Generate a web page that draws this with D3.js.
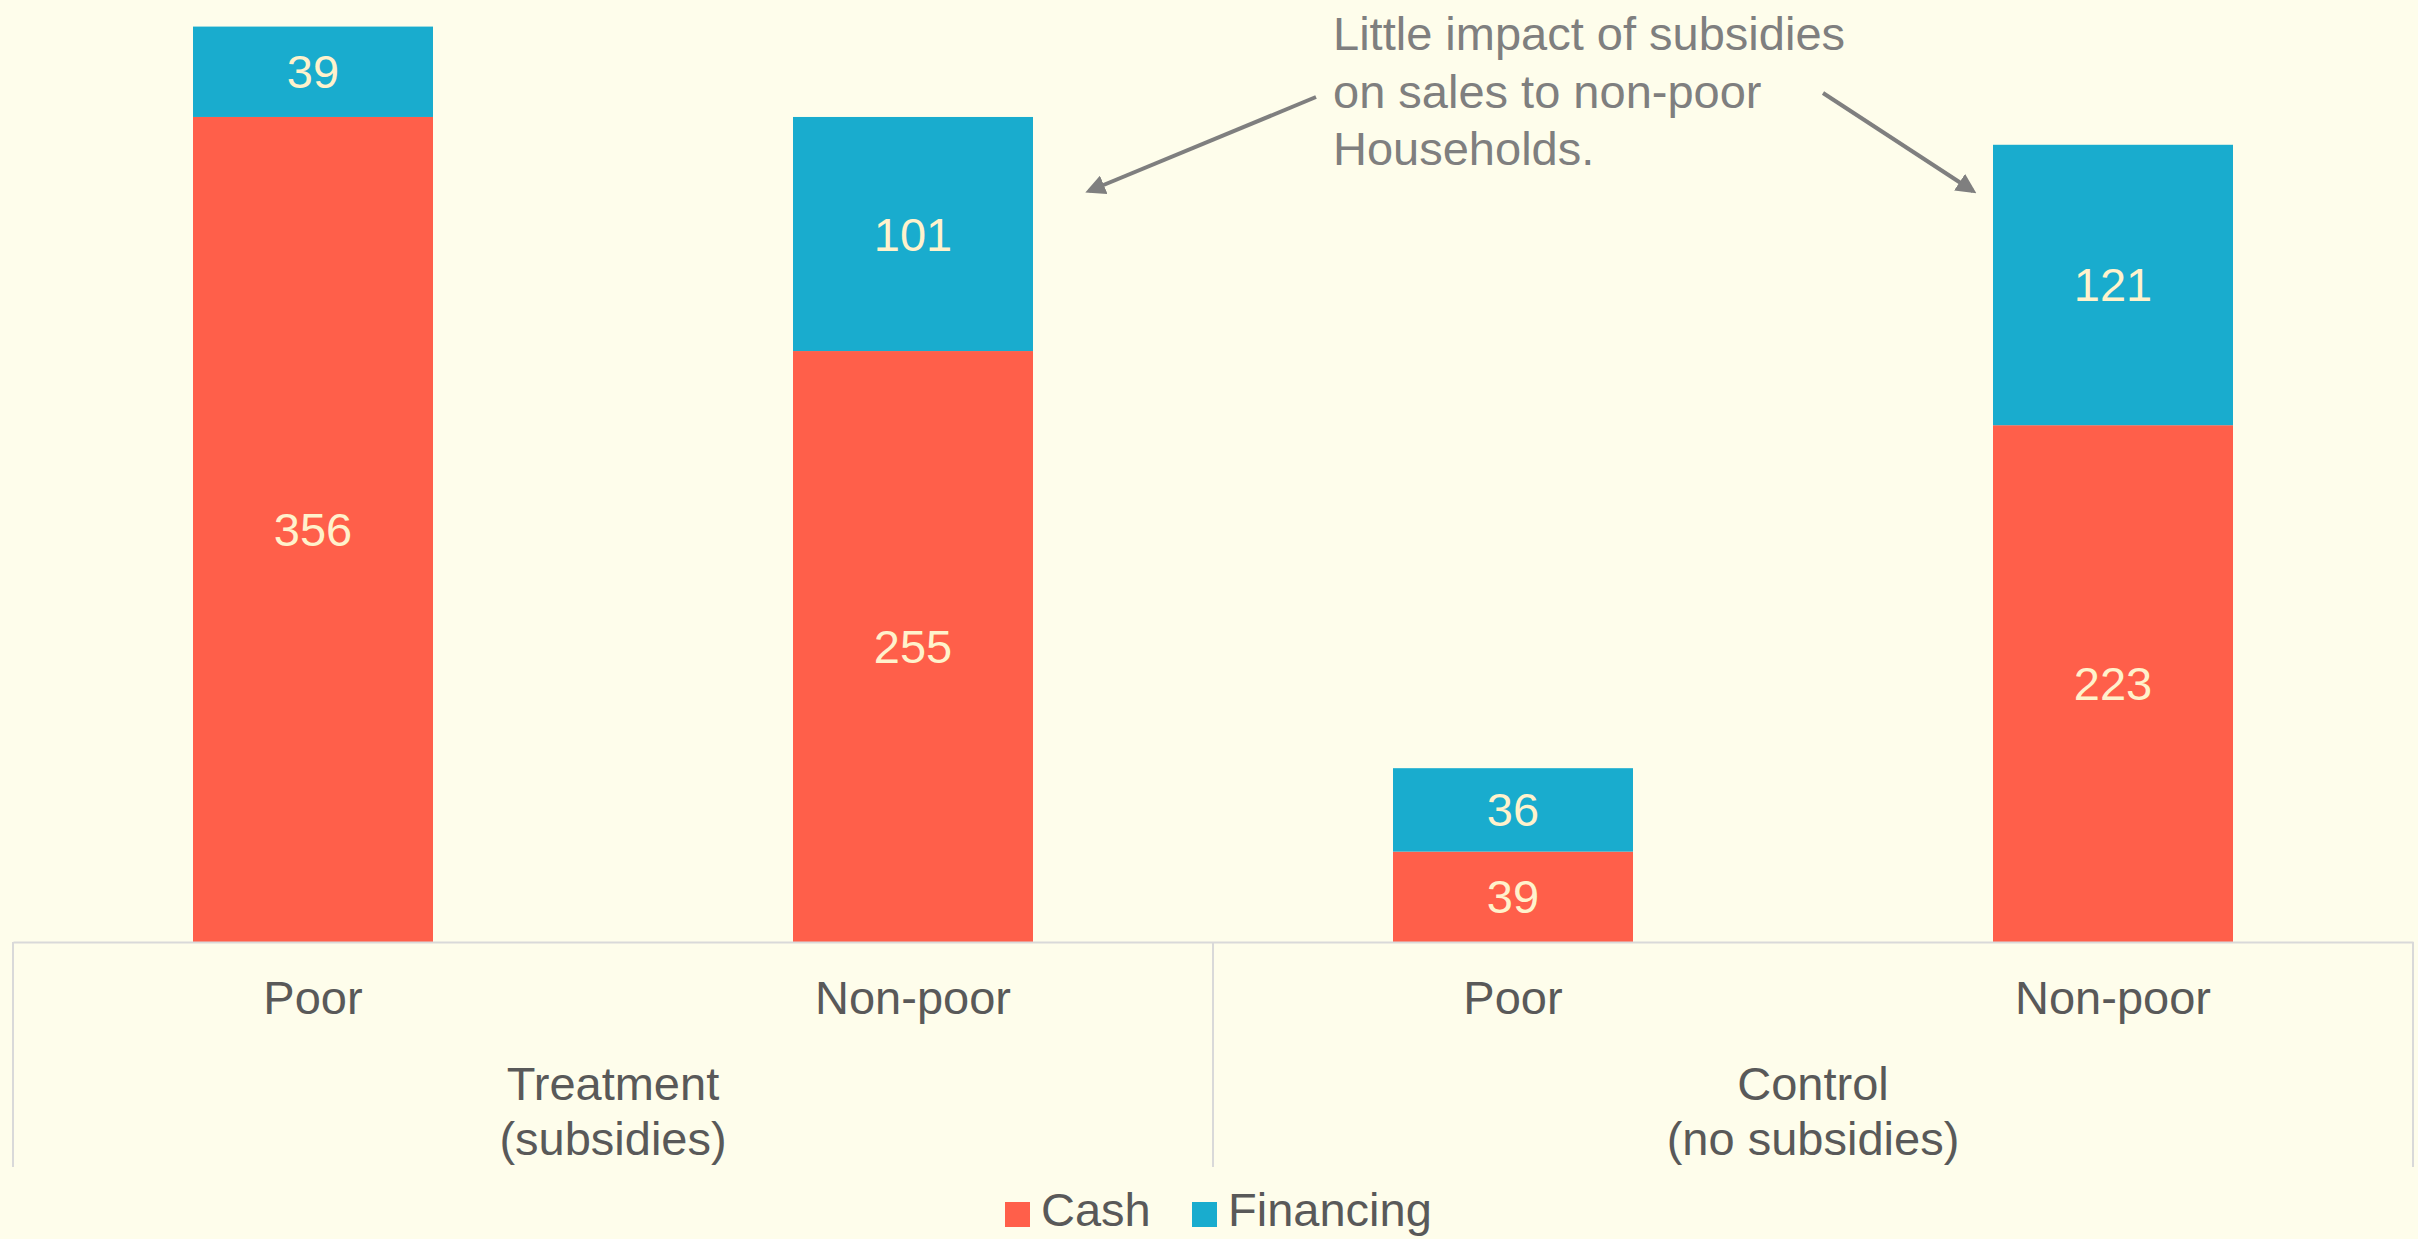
<!DOCTYPE html>
<html>
<head>
<meta charset="utf-8">
<script src="https://cdn.jsdelivr.net/npm/d3@7"></script>
<style>
    html, body { margin: 0; padding: 0; background: #fefdeb; }
    svg { display: block; font-family: "Liberation Sans", Arial, sans-serif; }
    .value { fill: #fff2cc; font-size: 47px; text-anchor: middle; dominant-baseline: central; }
    .axis text { fill: #595959; font-size: 47px; }
    .axis path { stroke: #d9d9d9; stroke-width: 2px; }
    .sep { stroke: #d9d9d9; stroke-width: 2px; }
    .group { fill: #595959; font-size: 47px; text-anchor: middle; }
    .note { fill: #7f7f7f; font-size: 47px; }
    .arrow { stroke: #7f7f7f; stroke-width: 4px; fill: none; }
    .legend text { fill: #595959; font-size: 47px; }
</style>
</head>
<body>
<svg width="2418" height="1239"></svg>
<script>
const categories = ['Poor', 'Non-poor', 'Poor', 'Non-poor'];
const groupIndex = [0, 0, 1, 1];
const groups = [['Treatment', '(subsidies)'], ['Control', '(no subsidies)']];
const cash = [356, 255, 39, 223];
const financing = [39, 101, 36, 121];
const seriesNames = ['Cash', 'Financing'];
const colors = ['#ff5f4a', '#19acce'];
const note = ['Little impact of subsidies', 'on sales to non-poor', 'Households.'];

const PARAMS = { left: 13, right: 2413, base: 942, top: 15, yMax: 400 };

const svg = d3.select('svg');

const rows = categories.map((c, i) => ({ key: i, cat: c, Cash: cash[i], Financing: financing[i] }));
const stacked = d3.stack().keys(seriesNames)(rows);

const x = d3.scaleBand()
    .domain(rows.map(d => d.key))
    .range([PARAMS.left, PARAMS.right])
    .paddingInner(0.6)
    .paddingOuter(0.3);

const y = d3.scaleLinear()
    .domain([0, PARAMS.yMax])
    .range([PARAMS.base, PARAMS.top]);

// bars
const layers = svg.selectAll('.layer')
    .data(stacked)
    .enter()
    .append('g')
    .attr('fill', (d, i) => colors[i]);

layers.selectAll('rect')
    .data(d => d)
    .enter()
    .append('rect')
    .attr('x', d => x(d.data.key))
    .attr('width', x.bandwidth())
    .attr('y', d => y(d[1]))
    .attr('height', d => y(d[0]) - y(d[1]));

layers.selectAll('.value')
    .data(d => d)
    .enter()
    .append('text')
    .classed('value', true)
    .attr('x', d => x(d.data.key) + x.bandwidth() / 2)
    .attr('y', d => (y(d[0]) + y(d[1])) / 2)
    .text(d => d[1] - d[0]);

// category axis
const axis = svg.append('g')
    .classed('axis', true)
    .attr('transform', `translate(0,${PARAMS.base})`)
    .call(d3.axisBottom(x).tickSize(0).tickPadding(39).tickFormat(i => categories[i]));
axis.selectAll('text').attr('font-family', null).attr('font-size', null);
axis.attr('font-family', null).attr('font-size', null);

// group separators and labels
const outer = x.step() * x.paddingOuter();
const groupSpans = groups.map((g, gi) => {
    const keys = rows.filter(r => groupIndex[r.key] === gi).map(r => r.key);
    return {
        lines: g,
        x0: x(keys[0]) - outer,
        x1: x(keys[keys.length - 1]) + x.bandwidth() + outer
    };
});
const sepX = Array.from(new Set(groupSpans.flatMap(s => [s.x0, s.x1])));
svg.selectAll('.sep')
    .data(sepX)
    .enter()
    .append('line')
    .classed('sep', true)
    .attr('x1', d => d).attr('x2', d => d)
    .attr('y1', PARAMS.base).attr('y2', 1167);

const glabels = svg.selectAll('.group')
    .data(groupSpans)
    .enter()
    .append('text')
    .classed('group', true)
    .attr('x', d => (d.x0 + d.x1) / 2)
    .attr('y', 1100);
glabels.selectAll('tspan')
    .data(d => d.lines.map(l => ({ l, cx: (d.x0 + d.x1) / 2 })))
    .enter()
    .append('tspan')
    .attr('x', d => d.cx)
    .attr('dy', (d, i) => i ? 55 : 0)
    .text(d => d.l);

// annotation
svg.append('defs').append('marker')
    .attr('id', 'head')
    .attr('viewBox', '0 0 10 10')
    .attr('refX', 8).attr('refY', 5)
    .attr('markerWidth', 5).attr('markerHeight', 5)
    .attr('orient', 'auto')
    .append('path')
    .attr('d', 'M0,0 L10,5 L0,10 z')
    .attr('fill', '#7f7f7f');

svg.selectAll('.note')
    .data(note)
    .enter()
    .append('text')
    .classed('note', true)
    .attr('x', 1333)
    .attr('y', (d, i) => 50 + i * 57.5)
    .text(d => d);

svg.append('line').classed('arrow', true)
    .attr('x1', 1316).attr('y1', 97)
    .attr('x2', x(1) + x.bandwidth() + 56).attr('y2', 191)
    .attr('marker-end', 'url(#head)');
svg.append('line').classed('arrow', true)
    .attr('x1', 1823).attr('y1', 93)
    .attr('x2', x(3) - 20).attr('y2', 191)
    .attr('marker-end', 'url(#head)');

// legend
const legend = svg.append('g').classed('legend', true);
const legendX = [1005, 1192];
seriesNames.forEach((s, i) => {
    legend.append('rect')
        .attr('x', legendX[i]).attr('y', 1202)
        .attr('width', 25).attr('height', 25)
        .attr('fill', colors[i]);
    legend.append('text')
        .attr('x', legendX[i] + 36).attr('y', 1226)
        .text(s);
});
</script>
</body>
</html>
